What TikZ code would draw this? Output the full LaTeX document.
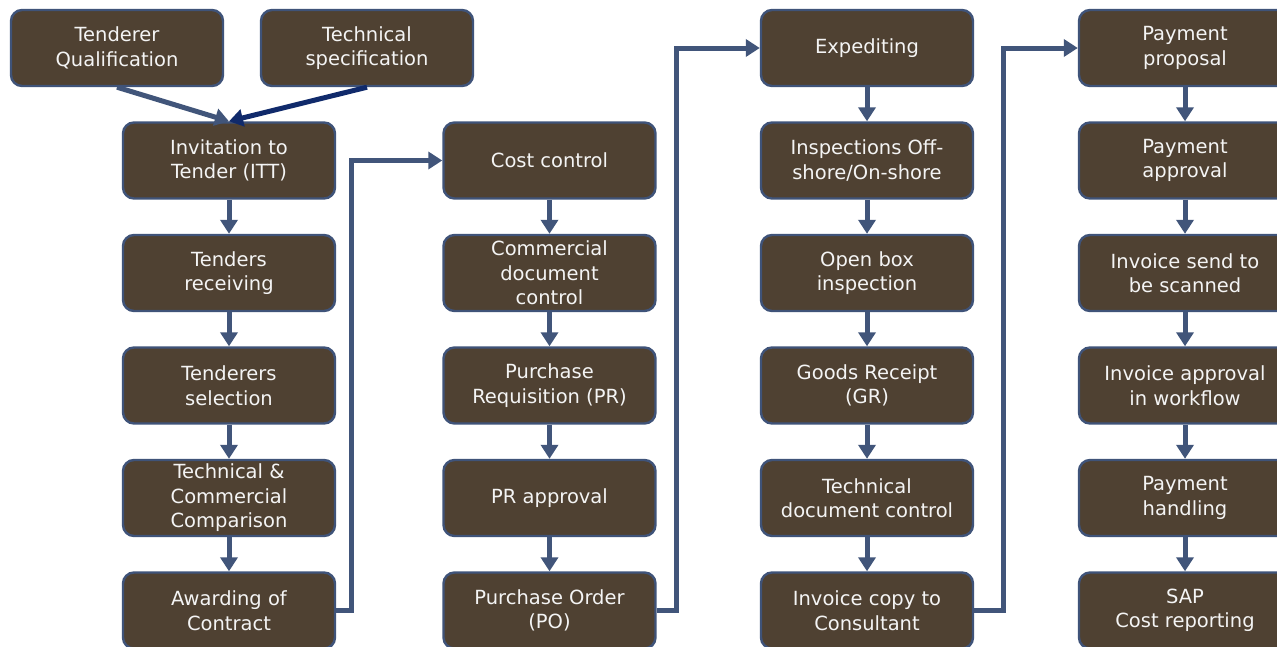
\documentclass[tikz,border=0pt]{standalone}
\usepackage{fontspec}
\setmainfont{DejaVu Sans}
\usetikzlibrary{arrows.meta,calc}
\definecolor{boxfill}{HTML}{4F4132}
\definecolor{boxline}{HTML}{3F5379}
\definecolor{flow}{HTML}{41557A}
\definecolor{navy}{HTML}{102A6B}
\definecolor{boxtext}{HTML}{F4F4F4}
\begin{document}
\begin{tikzpicture}[x=1pt,y=-1pt,
  stepbox/.style={draw=boxline, line width=2.4pt, fill=boxfill, rounded corners=11pt,
    minimum width=212pt, minimum height=76pt, align=center, text=boxtext,
    font=\fontsize{19.5}{24.5}\selectfont, inner sep=2pt},
  flowarrow/.style={draw=flow, line width=5pt,
    -{Triangle[width=17pt,length=14pt]}},
  elbow/.style={flowarrow, rounded corners=0pt}
]
\clip (0,0) rectangle (1277,646);
\fill[white] (0,0) rectangle (1277,646);

% top inputs
\node[stepbox] (tq) at (117,48) {Tenderer\\Qualification};
\node[stepbox] (ts) at (367,48) {Technical\\specification};

% column 1: tendering
\node[stepbox] (c1a) at (229,160.5) {Invitation to\\Tender (ITT)};
\node[stepbox] (c1b) at (229,273) {Tenders\\receiving};
\node[stepbox] (c1c) at (229,385.5) {Tenderers\\selection};
\node[stepbox] (c1d) at (229,498) {Technical \&\\Commercial\\Comparison};
\node[stepbox] (c1e) at (229,610.5) {Awarding of\\Contract};

% column 2: ordering
\node[stepbox] (c2a) at (549.5,160.5) {Cost control};
\node[stepbox] (c2b) at (549.5,273) {Commercial\\document\\control};
\node[stepbox] (c2c) at (549.5,385.5) {Purchase\\Requisition (PR)};
\node[stepbox] (c2d) at (549.5,498) {PR approval};
\node[stepbox] (c2e) at (549.5,610.5) {Purchase Order\\(PO)};

% column 3: delivery
\node[stepbox] (c3a) at (867,48) {Expediting};
\node[stepbox] (c3b) at (867,160.5) {Inspections Off-\\shore/On-shore};
\node[stepbox] (c3c) at (867,273) {Open box\\inspection};
\node[stepbox] (c3d) at (867,385.5) {Goods Receipt\\(GR)};
\node[stepbox] (c3e) at (867,498) {Technical\\document control};
\node[stepbox] (c3f) at (867,610.5) {Invoice copy to\\Consultant};

% column 4: payment
\node[stepbox] (c4a) at (1185,48) {Payment\\proposal};
\node[stepbox] (c4b) at (1185,160.5) {Payment\\approval};
\node[stepbox] (c4c) at (1185,273) {Invoice send to\\be scanned};
\node[stepbox] (c4d) at (1185,385.5) {Invoice approval\\in workflow};
\node[stepbox] (c4e) at (1185,498) {Payment\\handling};
\node[stepbox] (c4f) at (1185,610.5) {SAP\\Cost reporting};

% inputs into the invitation to tender
\draw[flowarrow] (tq.south) -- (c1a.north);
\draw[flowarrow, draw=navy] (ts.south) -- (c1a.north);

% vertical flow inside each column
\foreach \a/\b in {c1a/c1b,c1b/c1c,c1c/c1d,c1d/c1e,
                   c2a/c2b,c2b/c2c,c2c/c2d,c2d/c2e,
                   c3a/c3b,c3b/c3c,c3c/c3d,c3d/c3e,c3e/c3f,
                   c4a/c4b,c4b/c4c,c4c/c4d,c4d/c4e,c4e/c4f}
  \draw[flowarrow] (\a.south) -- (\b.north);

% links from the bottom of one column to the top of the next
\draw[elbow] (c1e.east) -- ++(15,0) |- (c2a.west);
\draw[elbow] (c2e.east) -- ++(20,0) |- (c3a.west);
\draw[elbow] (c3f.east) -- ++(29,0) |- (c4a.west);
\end{tikzpicture}
\end{document}
